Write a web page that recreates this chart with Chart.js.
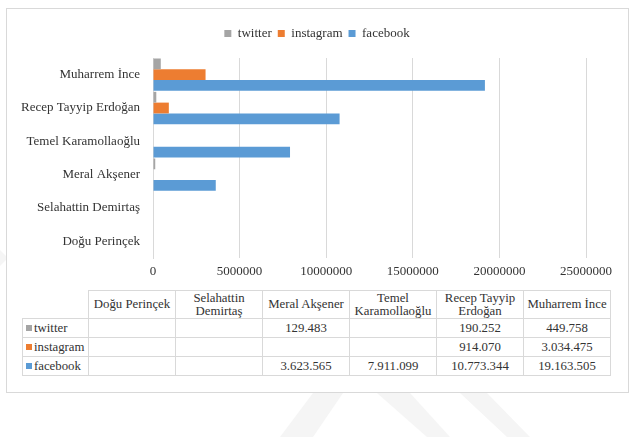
<!DOCTYPE html>
<html>
<head>
<meta charset="utf-8">
<script src="https://cdn.jsdelivr.net/npm/chart.js@4/dist/chart.umd.min.js"></script>
<style>
body{margin:0;background:#fff;font-family:"Liberation Serif","Times New Roman",serif;overflow:hidden;}
#mark{position:absolute;left:0;top:0;}
#frame{position:absolute;left:6px;top:8px;width:621px;height:383px;border:1px solid #d9d9d9;background:#fff;}
#wrap{position:absolute;left:0;top:0;width:634px;height:283px;}
#tbl{position:absolute;left:22px;top:290px;border-collapse:collapse;table-layout:fixed;font-size:12.8px;color:#333;}
#tbl td,#tbl th{border:1px solid #d9d9d9;padding:0 2px;font-weight:normal;text-align:center;line-height:13px;height:18px;}
#tbl th{height:27px;}
#tbl th.corner{border-top:none;border-left:none;}
#tbl td.name{text-align:left;padding-left:3px;}
.key{display:inline-block;width:6px;height:6px;margin-right:2px;vertical-align:1px;}
</style>
</head>
<body>
<svg id="mark" width="634" height="437">
  <g fill="#f5f5f5">
    <polygon points="313,393 343,393 313,437 280,437"/>
    <polygon points="377,393 410,393 450,437 427,437"/>
    <polygon points="460,393 487,393 530,437 507,437"/>
    <polygon points="0,250 8,258 0,266"/>
  </g>
</svg>
<div id="frame"></div>
<div id="wrap"><canvas id="chart"></canvas></div>
<table id="tbl"></table>
<script>
// categories in table order (bottom to top on the chart)
const candidates = ['Doğu Perinçek', 'Selahattin Demirtaş', 'Meral Akşener', 'Temel Karamollaoğlu', 'Recep Tayyip Erdoğan', 'Muharrem İnce'];
const seriesNames = ['twitter', 'instagram', 'facebook'];
const twitter = [null, null, 129483, null, 190252, 449758];
const instagram = [null, null, null, null, 914070, 3034475];
const facebook = [null, null, 3623565, 7911099, 10773344, 19163505];
const colors = ['#a5a5a5', '#ed7d31', '#5b9bd5'];
const xTicks = [0, 5000000, 10000000, 15000000, 20000000, 25000000];

const series = [twitter, instagram, facebook];
const rev = a => a.slice().reverse();
const serif = "'Liberation Serif', 'Times New Roman', serif";

// fixed legend height, and centre it over the whole frame
const legendFix = {
    id: 'legendFix',
    beforeInit(chart) {
        const fit = chart.legend.fit;
        chart.legend.fit = function () { fit.call(this); this.height = 37; };
    },
    afterLayout(chart) {
        chart.legend.left += 24;
        chart.legend.right += 24;
    }
};

new Chart(document.getElementById('chart'), {
    type: 'bar',
    data: {
        labels: rev(candidates),
        datasets: seriesNames.map((n, i) => ({
            label: n,
            data: rev(series[i]),
            backgroundColor: colors[i],
            categoryPercentage: 0.97,
            barPercentage: 1
        }))
    },
    options: {
        indexAxis: 'y',
        responsive: true,
        maintainAspectRatio: false,
        animation: false,
        layout: { padding: { top: 21, left: 0, right: 48, bottom: 0 } },
        plugins: {
            legend: {
                position: 'top',
                labels: { boxWidth: 7, boxHeight: 7, padding: 6, color: '#333',
                    font: { family: serif, size: 13 } }
            },
            tooltip: { enabled: false }
        },
        scales: {
            x: {
                min: 0, max: 25000000,
                afterBuildTicks: s => { s.ticks = xTicks.map(v => ({ value: v })); },
                afterFit: s => { s.height = 25; },
                grid: { color: '#d9d9d9', drawTicks: false },
                border: { display: false },
                ticks: { padding: 6, color: '#333', maxRotation: 0,
                    font: { family: serif, size: 13 },
                    callback: v => String(v) }
            },
            y: {
                afterFit: s => { s.width = 153; },
                grid: { display: false, drawTicks: false },
                border: { display: true, color: '#d9d9d9' },
                ticks: { padding: 13, color: '#333',
                    font: { family: serif, size: 13 } }
            }
        }
    },
    plugins: [legendFix]
});

// data table
const fmt = v => v == null ? '' : String(v).replace(/\B(?=(\d{3})+(?!\d))/g, '.');
const tbl = document.getElementById('tbl');
let html = '<colgroup><col style="width:66px">' + candidates.map(() => '<col style="width:87px">').join('') + '</colgroup>';
html += '<tr><th class="corner"></th>' + candidates.map(c => '<th>' + c + '</th>').join('') + '</tr>';
seriesNames.forEach((n, i) => {
    html += '<tr><td class="name"><span class="key" style="background:' + colors[i] + '"></span>' + n + '</td>' +
        series[i].map(v => '<td>' + fmt(v) + '</td>').join('') + '</tr>';
});
tbl.innerHTML = html;
</script>
</body>
</html>
